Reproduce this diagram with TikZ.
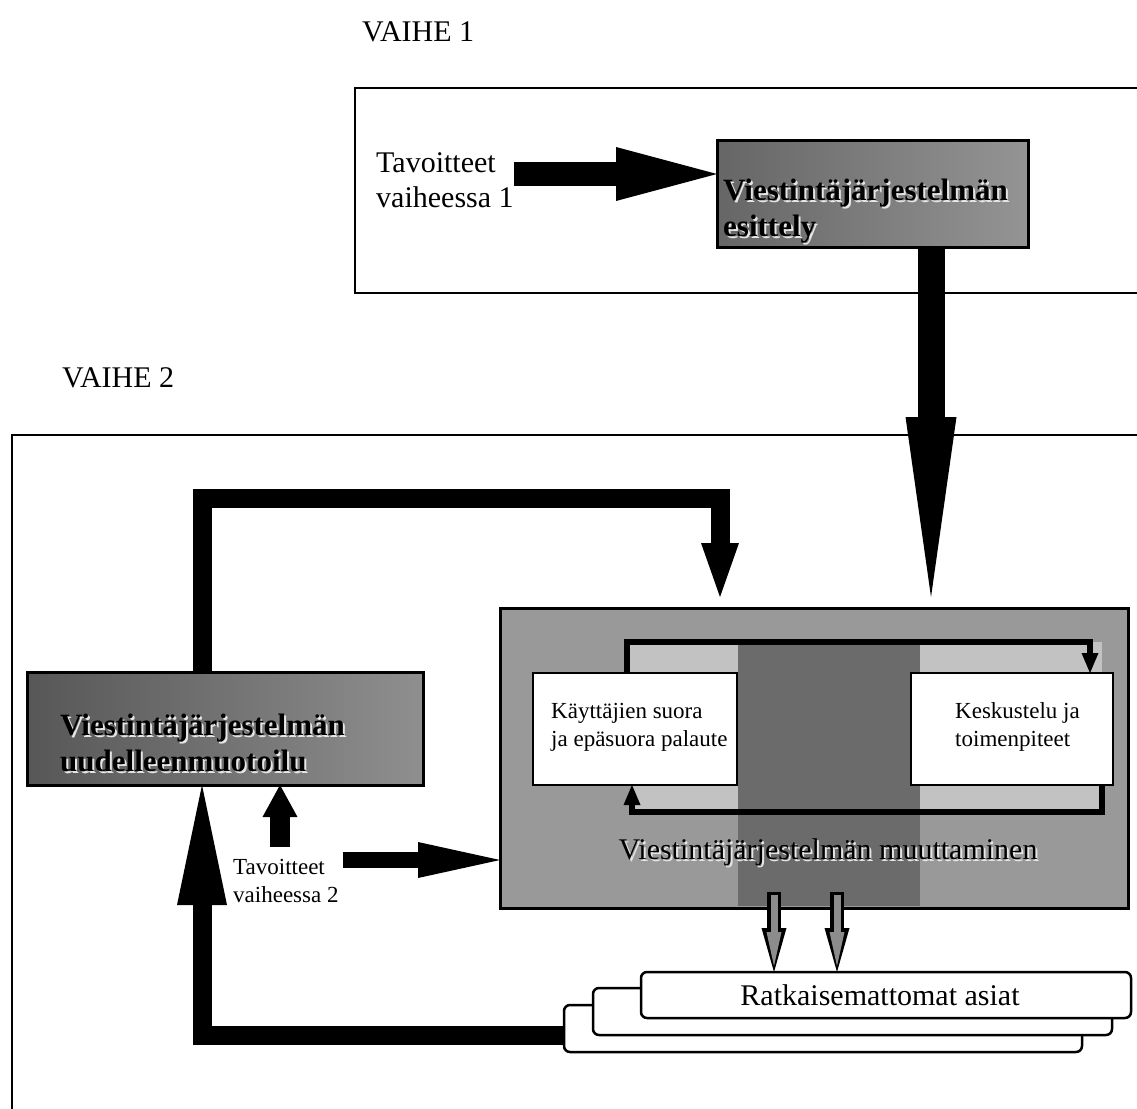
\documentclass[tikz,border=0pt]{standalone}
\usepackage{fontspec}
\setmainfont{Liberation Serif}
\usetikzlibrary{arrows.meta,calc}

% bold label with a light drop shadow
\newcommand\embossed[3]{%
  \node[emb, text=black!10, xshift=2pt, yshift=-2pt] (#1-sh) at (#2) {#3};
  \node[emb] (#1) at (#2) {#3};}

\begin{document}
\begin{tikzpicture}[x=1pt, y=-1pt,
  frame/.style={draw, line width=2.5pt, inner sep=0pt, outer sep=0pt, anchor=north west},
  graybox/.style={draw, line width=3pt, inner sep=0pt, outer sep=0pt, anchor=north west},
  whitebox/.style={draw, fill=white, line width=2.5pt, inner sep=0pt, outer sep=0pt, anchor=north west},
  stackbox/.style={draw, fill=white, line width=2.5pt, rounded corners=6pt, inner sep=0pt, outer sep=0pt, anchor=north west},
  head/.style={font=\fontsize{30}{35}\selectfont, inner sep=0pt, anchor=west},
  txt/.style={font=\fontsize{30}{35}\selectfont, align=left, inner sep=0pt},
  small/.style={font=\fontsize{23}{28}\selectfont, align=left, inner sep=0pt, anchor=west},
  emb/.style={font=\bfseries\fontsize{31}{36}\selectfont, align=left, inner sep=0pt, anchor=west},
  fat/.style={line width=#1, line join=miter, line cap=butt},
  thinloop/.style={line width=6pt, line join=miter, line cap=butt}
]
\useasboundingbox (0,0) rectangle (1137,1108);
\clip (0,0) rectangle (1137,1108);

% phase headings and frames
\node[head] (v1) at (362,32) {VAIHE 1};
\node[head] (v2) at (62,378) {VAIHE 2};
\node[frame, minimum width=805pt, minimum height=205pt] (ph1) at (355,88) {};
\node[frame, minimum width=1150pt, minimum height=800pt] (ph2) at (12,435) {};

% phase 1
\node[graybox, left color=black!60, right color=black!42, minimum width=311pt, minimum height=107pt] (intro) at (717,140) {};
\embossed{introT}{723,211}{Viestintäjärjestelmän\\esittely}
\node[txt, anchor=west] (goal1) at (376,180) {Tavoitteet\\vaiheessa 1};
\coordinate (a1) at ($(intro.north west)+(0,34)$);
\draw[fat=24pt, -{Triangle[length=101pt,width=54pt,line width=0pt]}] (goal1.east |- a1) -- (a1);

% change block
\node[graybox, fill=black!40, minimum width=628pt, minimum height=300pt] (chg) at (500,608) {};
\fill[black!24] (627,642) rectangle (1102,673);
\fill[black!24] (632,785) rectangle (1102,812);
\fill[black!58] (738,642) rectangle (920,906);
\node[whitebox, minimum width=204pt, minimum height=112pt] (lbox) at (533,673) {};
\node[whitebox, minimum width=202pt, minimum height=112pt] (rbox) at (911,673) {};
\node[small] (ltext) at (551,727) {Käyttäjien suora\\ja epäsuora palaute};
\node[small] (rtext) at (955,727) {Keskustelu ja\\toimenpiteet};
\coordinate (la) at ($(lbox.north west)+(94,0)$);
\coordinate (rb) at ($(rbox.north west)+(179,0)$);
\draw[thinloop, -{Triangle[length=20pt,width=17pt,line width=0pt]}] (la) -- ++(0,-31) -| (rb);
\coordinate (rs) at ($(rbox.south west)+(191,0)$);
\coordinate (ls) at ($(lbox.south west)+(99,0)$);
\draw[thinloop, -{Triangle[length=20pt,width=17pt,line width=0pt]}] (rs) -- ++(0,27) -| (ls);
\node[txt, text=black!10, xshift=2pt, yshift=-2pt] (chgT-sh) at (828,852) {Viestintäjärjestelmän muuttaminen};
\node[txt] (chgT) at (828,852) {Viestintäjärjestelmän muuttaminen};

% arrow from phase 1 into phase 2
\coordinate (d1) at ($(intro.south west)+(214,0)$);
\draw[fat=27pt, -{Triangle[length=180pt,width=51pt,line width=0pt]}, shorten >=11pt] (d1) -- (d1 |- chg.north);

% redesign block
\node[graybox, left color=black!66, right color=black!44, minimum width=396pt, minimum height=113pt] (redo) at (27,672) {};
\embossed{redoT}{60,743}{Viestintäjärjestelmän\\uudelleenmuotoilu}

% loop from redesign back into the change block
\coordinate (t1) at ($(redo.north west)+(175,0)$);
\coordinate (t2) at ($(chg.north west)+(220,0)$);
\draw[fat=19pt, -{Triangle[length=54pt,width=38pt,line width=0pt]}, shorten >=11pt] (t1) -- ++(0,-174) -| (t2);

% goals of phase 2
\node[small] (goal2) at (233,881) {Tavoitteet\\vaiheessa 2};
\coordinate (u1) at ($(redo.south west)+(253,62)$);
\draw[fat=20pt, -{Triangle[length=32pt,width=35pt,line width=0pt]}] (u1) -- (u1 |- redo.south);
\coordinate (r1) at ($(goal2.east)+(4,-21)$);
\draw[fat=16pt, -{Triangle[length=82pt,width=36pt,line width=0pt]}] (r1) -- (r1 -| chg.west);

% open issues
\node[stackbox, minimum width=518pt, minimum height=47pt] (back) at (564,1005) {};
\node[stackbox, minimum width=519pt, minimum height=47pt] (mid) at (593,988) {};
\node[stackbox, minimum width=490pt, minimum height=46pt] (front) at (641,972) {};
\node[txt] (rat) at ($(front.center)+(-6,0)$) {Ratkaisemattomat asiat};

\coordinate (s1) at (774,892);
\coordinate (s2) at (837,892);
\foreach \s in {s1,s2}{
  \draw[fat=14pt, -{Triangle[length=44pt,width=25pt,line width=0pt]}] (\s) -- (\s |- front.north);
  \draw[fat=7pt, black!45, -{Triangle[length=34pt,width=15pt,line width=0pt]}, shorten >=6pt, shorten <=3pt] (\s) -- (\s |- front.north);
}

% feedback from open issues to redesign
\coordinate (b1) at ($(back.south west)+(0,-17)$);
\coordinate (b2) at ($(redo.south west)+(175,0)$);
\draw[fat=19pt, -{Triangle[length=120pt,width=50pt,line width=0pt]}] (b1) -| (b2);
\end{tikzpicture}
\end{document}
